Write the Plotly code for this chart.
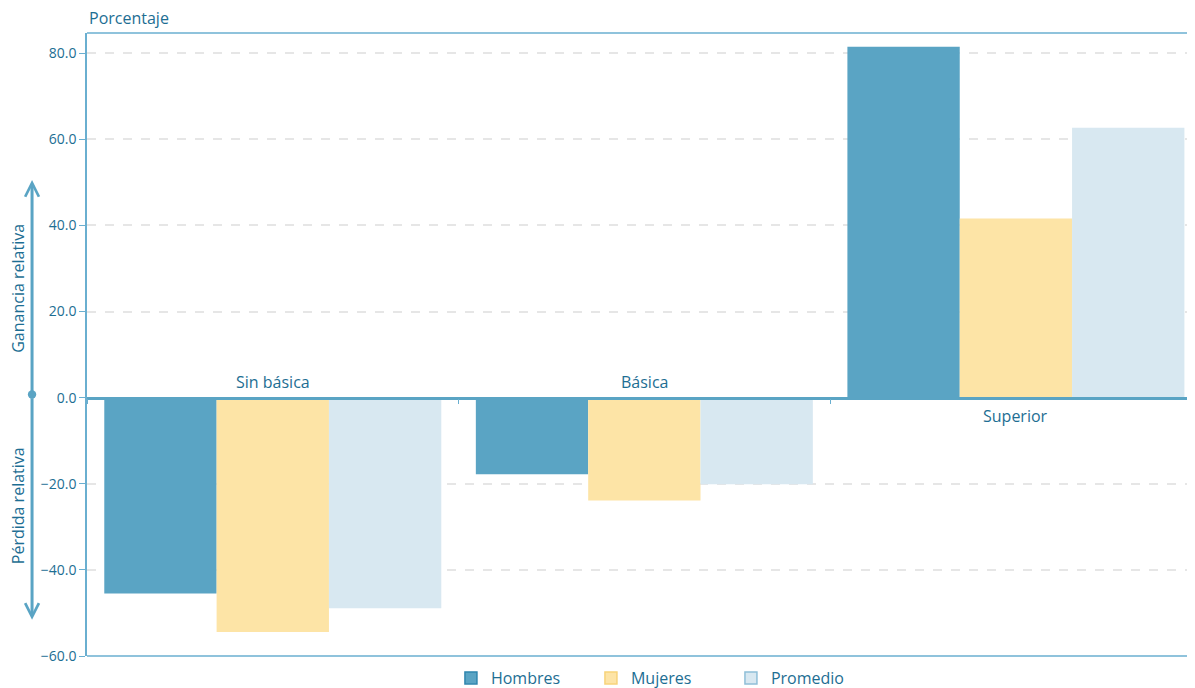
import plotly.graph_objects as go

categories = ["Sin básica", "Básica", "Superior"]
series_names = ["Hombres", "Mujeres", "Promedio"]
hombres = [-45.5, -17.8, 81.5]
mujeres = [-54.4, -23.9, 41.6]
promedio = [-48.9, -20.1, 62.7]
y_ticks = [-60, -40, -20, 0, 20, 40, 60, 80]

colors = ["#5AA4C4", "#FDE4A6", "#D8E8F1"]
edge_colors = ["#2F86AE", "#F7D37A", "#8FBFD8"]
text_color = "#1D6E93"
axis_color = "#6AAFD0"
FONT = "Open Sans"

fig = go.Figure()
for name, vals, c in zip(series_names, [hombres, mujeres, promedio], colors):
    fig.add_trace(go.Bar(x=categories, y=vals, name=name, offsetgroup=name,
                         marker=dict(color=c, line=dict(width=0)),
                         showlegend=False, hoverinfo="x+y+name"))
# legend entries (swatches with border)
for name, c, ec in zip(series_names, colors, edge_colors):
    fig.add_trace(go.Bar(x=[None], y=[None], name=name, offsetgroup=name,
                         marker=dict(color=c, line=dict(color=ec, width=1.5)), showlegend=True))

y_min, y_max = -60, 84.7
zero_pos = (0 - y_min) / (y_max - y_min)

annotations = []
# category labels placed by sign of values
for i, cat in enumerate(categories):
    s = hombres[i] + mujeres[i] + promedio[i]
    if s < 0:
        annotations.append(dict(x=cat, y=0, xref="x", yref="y", text=cat, showarrow=False,
                                yanchor="bottom", yshift=3, font=dict(size=16, color=text_color, family=FONT)))
    else:
        annotations.append(dict(x=cat, y=0, xref="x", yref="y", text=cat, showarrow=False,
                                yanchor="top", yshift=-5, font=dict(size=16, color=text_color, family=FONT)))

annotations += [
    dict(x=0, y=1, xref="paper", yref="paper", text="Porcentaje", showarrow=False,
         xanchor="left", yanchor="bottom", yshift=2, font=dict(size=16, color=text_color, family=FONT)),
    dict(x=-0.0623, y=0.591, xref="paper", yref="paper", text="Ganancia relativa", showarrow=False,
         xanchor="center", yanchor="middle",
         textangle=-90, font=dict(size=16, color=text_color, family=FONT)),
    dict(x=-0.0623, y=0.242, xref="paper", yref="paper", text="Pérdida relativa", showarrow=False,
         xanchor="center", yanchor="middle",
         textangle=-90, font=dict(size=16, color=text_color, family=FONT)),
    dict(x=-0.0496, y=0.764, xref="paper", yref="paper", text="", showarrow=True, ax=0, ay=216,
         arrowhead=5, arrowsize=0.9, arrowwidth=3, arrowcolor=colors[0], arrowside="end+start",
         startarrowhead=6, startarrowsize=0.7),
    dict(x=-0.0496, y=0.058, xref="paper", yref="paper", text="", showarrow=True, ax=0, ay=-223,
         arrowhead=5, arrowsize=0.9, arrowwidth=3, arrowcolor=colors[0]),
]

shapes = [
    dict(type="line", xref="paper", yref="paper", x0=0, x1=1, y0=1, y1=1,
         line=dict(color=axis_color, width=1.5)),
    dict(type="line", xref="paper", yref="paper", x0=0, x1=1, y0=0, y1=0,
         line=dict(color=axis_color, width=1.5)),
]

# the page body adds an 8px margin, so the figure is sized to fill the rest of the window
fig.update_layout(
    width=1187, height=680,
    margin=dict(l=79, r=0, t=25, b=32, autoexpand=False),
    paper_bgcolor="white", plot_bgcolor="white",
    font=dict(family=FONT, color=text_color),
    barmode="group", bargap=0.093, bargroupgap=0,
    annotations=annotations, shapes=shapes,
    legend=dict(orientation="h", x=0.518, xanchor="center", y=-0.0353, yanchor="middle",
                font=dict(size=16, color=text_color, family=FONT), entrywidth=95,
                bgcolor="rgba(0,0,0,0)"),
    xaxis=dict(type="category", range=[-0.5, 2.482], anchor="free", position=zero_pos,
               showline=True, linecolor=colors[0], linewidth=2.5, automargin=False,
               ticks="outside", tickson="boundaries", ticklen=5, tickcolor=axis_color,
               showticklabels=False, showgrid=False, zeroline=False, fixedrange=True),
    yaxis=dict(range=[y_min, y_max], tickvals=y_ticks, tickformat=".1f", automargin=False,
               showline=True, linecolor=axis_color, linewidth=1.5,
               ticks="outside", ticklen=6, tickcolor=axis_color,
               showgrid=True, gridcolor="#E6E6E6", griddash="dash", gridwidth=1.5,
               zeroline=False, tickfont=dict(size=14, color=text_color, family=FONT)),
)

fig.write_html("out.html")
